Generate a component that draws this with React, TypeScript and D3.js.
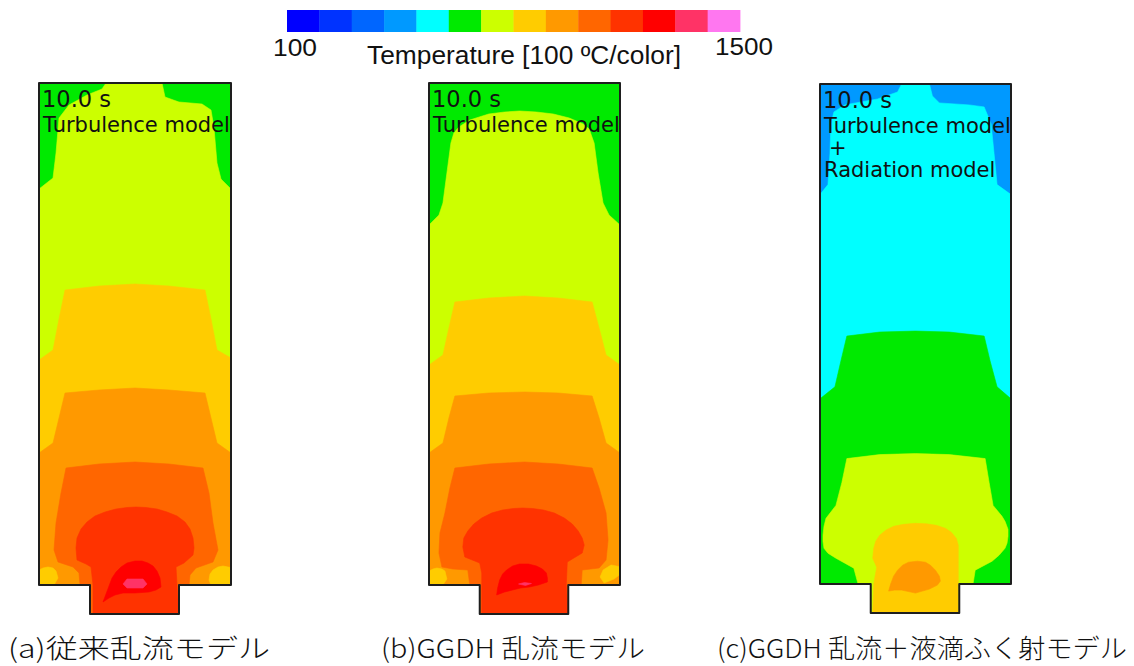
import React from "react";
import * as d3 from "d3";

type Pt = [number, number];
interface Zone {
  lo: number; // lower bound of the temperature band painted inside the zone [°C]
  closed: boolean; // closed loop, or an isotherm that opens towards the chamber floor
  pts: Pt[]; // x from left wall, y depth from ceiling (chamber units)
}

// Temperature legend: 100 °C per colour band
const bandLows = [100, 200, 300, 400, 500, 600, 700, 800, 900, 1000, 1100, 1200, 1300, 1400];
const bandColors = [
  "#0000ff", "#0033ff", "#0066ff", "#0099ff", "#00ffff", "#00ea00", "#ccff00",
  "#ffcc00", "#ff9900", "#ff6600", "#ff3300", "#ff0000", "#ff3366", "#ff77f0",
];
const legendTicks = [100, 1500];

// (a) conventional turbulence model, t = 10.0 s
const baseA = 600;
const zonesA: Zone[] = [
  { lo: 700, closed: false, pts: [[0, 106], [14, 95], [17, 70], [20, 35], [30, 22], [48, 12], [63, 6], [67, 0], [67, -5], [123, -5], [123, 0], [126, 14], [140, 19], [163, 21], [172, 27], [175, 45], [178, 80], [182, 96], [192, 106]] },
  { lo: 800, closed: false, pts: [[0, 277], [14, 267], [20, 236], [26, 207], [60, 203], [96, 201], [130, 203], [166, 207], [172, 236], [178, 267], [192, 275]] },
  { lo: 900, closed: false, pts: [[0, 370], [14, 360], [20, 335], [26, 310], [60, 307], [96, 305], [130, 307], [166, 310], [172, 335], [178, 360], [192, 370]] },
  { lo: 800, closed: true, pts: [[-2, 488], [4, 485], [9, 484], [14, 485], [17, 488], [19, 495], [15, 502], [-2, 502]] },
  { lo: 800, closed: true, pts: [[194, 485], [184, 483], [179, 484], [174, 487], [171, 491], [170, 497], [172, 502], [194, 502]] },
  { lo: 1000, closed: false, pts: [[41, 502], [40, 490], [34, 484], [19, 479], [15, 467], [17, 440], [22, 410], [27, 385], [60, 381], [96, 379], [130, 381], [164, 385], [170, 410], [174, 440], [179, 467], [174, 479], [157, 485], [151, 492], [150, 502]] },
  { lo: 1100, closed: false, pts: [[54, 531], [54, 502], [52, 484], [47, 481], [38, 477], [37, 465], [38, 455], [42, 446], [48, 439], [56, 433], [66, 429], [77, 426], [88, 424.5], [97, 424], [107, 424.5], [118, 426], [128, 429], [138, 433], [146, 439], [151, 446], [154, 455], [155, 465], [154, 472], [145, 480], [137, 484], [138, 502], [140, 531]] },
  { lo: 1200, closed: true, pts: [[64, 519], [67, 511], [70, 503], [73, 495], [77, 489], [82, 484], [88, 480], [96, 478], [103, 478], [109, 480], [114, 483], [118, 488], [121, 495], [122, 504], [117, 507], [110, 509], [96, 510], [84, 510], [76, 512], [70, 515]] },
  { lo: 1300, closed: true, pts: [[84, 501], [88, 496], [104, 496], [108, 501], [104, 505], [88, 505]] },
];

// (b) GGDH turbulence model, t = 10.0 s
const baseB = 600;
const zonesB: Zone[] = [
  { lo: 700, closed: false, pts: [[0, 142], [10, 132], [14, 120], [18, 90], [22, 60], [25, 50], [30, 44], [41, 37], [60, 31], [76, 29], [91, 28], [108, 29], [125, 31], [141, 35], [155, 41], [161, 46], [166, 60], [170, 90], [175, 120], [181, 132], [192, 142]] },
  { lo: 800, closed: false, pts: [[0, 282], [14, 272], [20, 245], [26, 219], [60, 215], [96, 213], [130, 215], [164, 219], [171, 245], [178, 272], [192, 282]] },
  { lo: 900, closed: false, pts: [[0, 370], [14, 360], [20, 335], [26, 313], [60, 310], [96, 309], [130, 310], [164, 313], [171, 335], [178, 360], [192, 370]] },
  { lo: 800, closed: true, pts: [[-2, 489], [4, 486], [8, 485], [13, 486], [16, 488], [18, 496], [14, 502], [-2, 502]] },
  { lo: 800, closed: true, pts: [[194, 484], [183, 482], [175, 487], [172, 494], [176, 500], [186, 496], [194, 490]] },
  { lo: 1000, closed: false, pts: [[41, 502], [39, 487], [24, 486], [13, 484], [10, 470], [11, 450], [16, 430], [21, 405], [26, 385], [60, 381], [96, 379], [130, 381], [164, 385], [171, 405], [178, 430], [180, 457], [178, 477], [171, 485], [154, 487], [153, 502]] },
  { lo: 1100, closed: false, pts: [[53, 531], [53, 490], [51, 480], [36, 474], [34, 464], [35, 455], [39, 448], [45, 441], [53, 435], [63, 430], [74, 427], [85, 425.5], [94, 425], [104, 425.5], [115, 427], [126, 430], [136, 435], [144, 441], [150, 448], [154, 455], [156, 462], [154, 470], [139, 479], [138, 502], [140, 531]] },
  { lo: 1200, closed: true, pts: [[68, 512], [69, 505], [71, 497], [74, 491], [78, 487], [84, 483], [91, 481], [100, 481], [108, 483], [114, 486], [118, 490], [119, 495], [119, 499], [110, 502], [101, 504], [92, 505], [84, 507], [76, 509]] },
  { lo: 1300, closed: true, pts: [[90, 501], [96, 499.5], [103, 500.5], [97, 502.5]] },
];

// (c) GGDH turbulence + droplet radiation model, t = 10.0 s
const baseC = 400;
const zonesC: Zone[] = [
  { lo: 500, closed: false, pts: [[0, 111], [8, 101], [10, 70], [11, 40], [14, 28], [25, 21], [58, 15], [78, 8], [82, 0], [82, -5], [110, -5], [110, 0], [113, 12], [120, 19], [150, 21], [165, 23], [172, 40], [175, 70], [178, 101], [192, 111]] },
  { lo: 600, closed: false, pts: [[0, 316], [15, 304], [21, 278], [27, 253], [60, 249], [96, 248], [130, 249], [165, 253], [171, 278], [178, 304], [192, 316]] },
  { lo: 700, closed: false, pts: [[38, 501], [34, 486], [16, 476], [8, 471], [4, 466], [3, 459], [3, 453], [4, 444], [6, 436], [16, 423], [22, 400], [27, 376], [60, 372], [96, 371], [130, 372], [166, 376], [170, 400], [174, 423], [183, 434], [186, 439], [189, 447], [189, 454], [188, 461], [186, 466], [180, 473], [173, 479], [156, 488], [154, 501]] },
  { lo: 800, closed: false, pts: [[53, 531], [54, 502], [57, 485], [53, 476], [54, 466], [56, 459], [60, 453], [66, 448], [74, 444], [84, 442], [96, 441], [107, 441.5], [117, 443], [126, 446], [132, 450], [137, 456], [139, 463], [139, 480], [139, 531]] },
  { lo: 900, closed: true, pts: [[69, 509], [71, 502], [74, 494], [78, 488], [83, 483], [89, 480], [98, 479], [106, 480], [111, 483], [116, 488], [120, 494], [121, 499], [118, 503], [110, 507], [96, 511], [82, 508], [75, 508]] },
];

// Chamber geometry (chamber units) and page layout
const CHAMBER_W = 192;
const CHAMBER_H = 502;
const NOZZLE_X0 = 51;
const NOZZLE_X1 = 140;
const NOZZLE_BOTTOM = 531;
const FLOOR_OUT = 560;

const panels = [
  { id: "a", left: 39, width: 192, top: 83, bottom: 614, base: baseA, zones: zonesA, lines: ["Turbulence model"], caption: "(a)従来乱流モデル", capX: 8, capW: 262 },
  { id: "b", left: 429, width: 191, top: 83, bottom: 614, base: baseB, zones: zonesB, lines: ["Turbulence model"], caption: "(b)GGDH 乱流モデル", capX: 381, capW: 264 },
  { id: "c", left: 820, width: 191, top: 84, bottom: 613, base: baseC, zones: zonesC, lines: ["Turbulence model", "+", "Radiation model"], caption: "(c)GGDH 乱流＋液滴ふく射モデル", capX: 717, capW: 410 },
];

const color = d3.scaleOrdinal<number, string>().domain(bandLows).range(bandColors);

function Panel({ p }: { p: (typeof panels)[number] }) {
  const x = d3.scaleLinear().domain([0, CHAMBER_W]).range([p.left, p.left + p.width]);
  const y = d3.scaleLinear().domain([0, NOZZLE_BOTTOM]).range([p.top, p.bottom]);
  const line = d3.line<Pt>().x((d) => x(d[0])).y((d) => y(d[1]));

  const outline: Pt[] = [
    [0, 0], [CHAMBER_W, 0], [CHAMBER_W, CHAMBER_H], [NOZZLE_X1, CHAMBER_H],
    [NOZZLE_X1, NOZZLE_BOTTOM], [NOZZLE_X0, NOZZLE_BOTTOM], [NOZZLE_X0, CHAMBER_H], [0, CHAMBER_H],
  ];
  const outlinePath = line(outline) + "Z";
  const clipId = `chamber-${p.id}`;

  // open isotherms are closed downwards through the chamber floor
  const zonePath = (z: Zone) => {
    if (z.closed) return line(z.pts) + "Z";
    const first = z.pts[0];
    const last = z.pts[z.pts.length - 1];
    const xl = last[0] >= CHAMBER_W ? CHAMBER_W + 5 : last[0];
    const xf = first[0] <= 0 ? -5 : first[0];
    const ring: Pt[] = [[xf, first[1]], ...z.pts, [xl, last[1]], [xl, FLOOR_OUT], [xf, FLOOR_OUT]];
    return line(ring) + "Z";
  };

  const textX = p.left + 3;
  return (
    <g>
      <defs>
        <clipPath id={clipId}>
          <path d={outlinePath} />
        </clipPath>
      </defs>
      <g clipPath={`url(#${clipId})`}>
        <rect x={x(-5)} y={y(-5)} width={x(CHAMBER_W + 5) - x(-5)} height={y(NOZZLE_BOTTOM + 5) - y(-5)} fill={color(p.base)} />
        {p.zones.map((z, i) => (
          <path key={i} d={zonePath(z)} fill={color(z.lo)} stroke={color(z.lo)} strokeWidth={0.6} strokeLinejoin="round" />
        ))}
      </g>
      <path d={outlinePath} fill="none" stroke="#1e1e1e" strokeWidth={2} strokeLinejoin="round" />
      <text x={textX} y={p.top + 24} fontFamily="DejaVu Sans" fontSize={22.5} fill="#111">10.0 s</text>
      {p.lines.map((t, i) => (
        <text
          key={i}
          x={t === "+" ? textX + 6 : textX + 1}
          y={p.top + 49 + i * 22}
          fontFamily="DejaVu Sans"
          fontSize={21}
          fill="#111"
        >
          {t}
        </text>
      ))}
      <text
        x={p.capX}
        y={658}
        fontFamily="'Noto Sans CJK JP'"
        fontWeight={300}
        fontSize={26}
        fill="#111"
        textLength={p.capW}
        lengthAdjust="spacingAndGlyphs"
      >
        {p.caption}
      </text>
    </g>
  );
}

function Legend() {
  const x = d3.scaleLinear().domain([100, 1500]).range([287, 740]);
  return (
    <g>
      {bandLows.map((lo) => (
        <rect key={lo} x={x(lo)} y={10} width={x(lo + 100) - x(lo) + 0.4} height={22} fill={color(lo)} />
      ))}
      <text x={273} y={56} fontFamily="'Liberation Sans', Arial" fontSize={24} fill="#111" textLength={44} lengthAdjust="spacingAndGlyphs">
        {legendTicks[0]}
      </text>
      <text x={715} y={55} fontFamily="'Liberation Sans', Arial" fontSize={24} fill="#111" textLength={58} lengthAdjust="spacingAndGlyphs">
        {legendTicks[1]}
      </text>
      <text x={367} y={64} fontFamily="'Liberation Sans', Arial" fontSize={25} fill="#111" textLength={314} lengthAdjust="spacingAndGlyphs">
        Temperature [100 ºC/color]
      </text>
    </g>
  );
}

export default function App() {
  return (
    <svg
      width={1134}
      height={666}
      viewBox="0 0 1134 666"
      style={{ position: "absolute", left: 0, top: 0, background: "#fff" }}
    >
      <rect width={1134} height={666} fill="#fff" />
      <Legend />
      {panels.map((p) => (
        <Panel key={p.id} p={p} />
      ))}
    </svg>
  );
}
